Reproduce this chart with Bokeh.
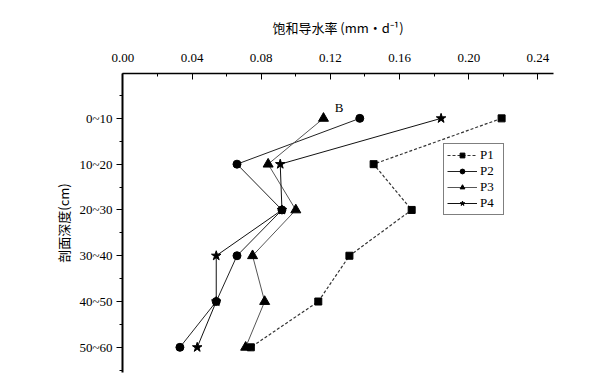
from bokeh.plotting import figure
from bokeh.models import Range1d, FixedTicker, Legend, LegendItem, Label
from bokeh.embed import file_html
from bokeh.resources import INLINE

depths = ["0~10", "10~20", "20~30", "30~40", "40~50", "50~60"]
p1 = [0.219, 0.145, 0.167, 0.131, 0.113, 0.074]
p2 = [0.137, 0.066, 0.092, 0.066, 0.054, 0.033]
p3 = [0.116, 0.084, 0.100, 0.075, 0.082, 0.071]
p4 = [0.184, 0.091, 0.092, 0.054, 0.054, 0.043]
x_ticks = [0.00, 0.04, 0.08, 0.12, 0.16, 0.20, 0.24]
x_minor = [0.02, 0.06, 0.10, 0.14, 0.18, 0.22]

ypos = list(range(len(depths)))

p = figure(width=592, height=376, output_backend="svg", toolbar_location=None,
           x_axis_location="above",
           x_range=Range1d(-0.0002, 0.249), y_range=Range1d(5.55, -0.98),
           min_border_left=122, min_border_right=39, min_border_top=73, min_border_bottom=4)
p.outline_line_color = None
p.xgrid.visible = False
p.ygrid.visible = False
p.background_fill_color = "white"

serif = "Liberation Serif"
cjk = "Noto Sans CJK SC"

xa = p.xaxis[0]
xa.ticker = FixedTicker(ticks=x_ticks, minor_ticks=x_minor)
xa.major_label_overrides = {t: f"{t:.2f}" for t in x_ticks}
xa.major_tick_in = 6
xa.major_tick_out = 0
xa.minor_tick_in = 3
xa.minor_tick_out = 0
xa.axis_line_width = 1.5
xa.major_label_text_font = serif
xa.major_label_text_font_size = "13px"
xa.major_label_text_color = "black"
xa.major_label_standoff = 12
xa.axis_label = "饱和导水率 (mm·d⁻¹)"
xa.axis_label_text_font = cjk
xa.axis_label_text_font_size = "13px"
xa.axis_label_text_font_style = "normal"
xa.axis_label_text_color = "black"
xa.axis_label_standoff = 14

ya = p.yaxis[0]
ya.ticker = FixedTicker(ticks=ypos, minor_ticks=[-0.5, 0.5, 1.5, 2.5, 3.5, 4.5, 5.5])
ya.major_label_overrides = {i: d for i, d in zip(ypos, depths)}
ya.major_tick_in = 0
ya.major_tick_out = 6
ya.minor_tick_in = 0
ya.minor_tick_out = 3
ya.axis_line_width = 2
ya.major_label_text_font = serif
ya.major_label_text_font_size = "13px"
ya.major_label_text_color = "black"
ya.major_label_standoff = 4
ya.axis_label = "剖面深度(cm)"
ya.axis_label_text_font = cjk
ya.axis_label_text_font_size = "13px"
ya.axis_label_text_font_style = "normal"
ya.axis_label_text_color = "black"
ya.axis_label_standoff = 3

l1 = p.line(p1, ypos, line_color="#333333", line_width=1.2, line_dash="3 2")
m1 = p.scatter(p1, ypos, marker="square", size=7, fill_color="black", line_color="black")
l2 = p.line(p2, ypos, line_color="#222222", line_width=1)
m2 = p.scatter(p2, ypos, marker="circle", size=8, fill_color="black", line_color="black")
l3 = p.line(p3, ypos, line_color="#555555", line_width=1)
m3 = p.scatter(p3, ypos, marker="triangle", size=10, fill_color="black", line_color="black")
l4 = p.line(p4, ypos, line_color="#111111", line_width=1)
m4 = p.scatter(p4, ypos, marker="star", size=10, fill_color="black", line_color="black")

legend = Legend(items=[
    LegendItem(label="P1", renderers=[l1, m1]),
    LegendItem(label="P2", renderers=[l2, m2]),
    LegendItem(label="P3", renderers=[l3, m3]),
    LegendItem(label="P4", renderers=[l4, m4]),
], location=(321, 157))
legend.border_line_color = "black"
legend.border_line_width = 1
legend.background_fill_alpha = 1
legend.label_text_font = serif
legend.label_text_font_size = "13px"
legend.label_text_color = "black"
legend.label_height = 12
legend.glyph_height = 12
legend.glyph_width = 30
legend.spacing = 0
legend.padding = 3
legend.margin = 0
legend.label_standoff = 3
p.add_layout(legend, "center")

p.add_layout(Label(x=0.125, y=-0.23, text="B", text_font=serif, text_font_size="13px",
                   text_color="black", text_align="center", text_baseline="middle"))

open("out.html", "w").write(file_html(p, INLINE))
